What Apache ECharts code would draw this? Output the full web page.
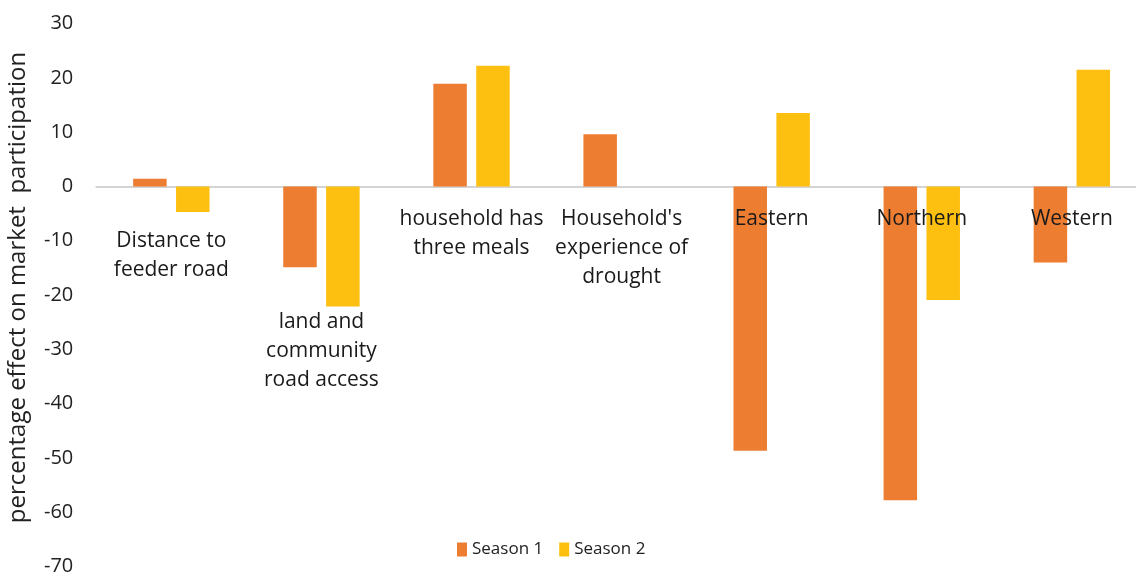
<!DOCTYPE html>
<html>
<head>
<meta charset="utf-8">
<script src="https://cdn.jsdelivr.net/npm/echarts@6/dist/echarts.min.js"></script>
<style>
html,body{margin:0;padding:0;background:#fff;}
#chart{width:1136px;height:576px;}
</style>
</head>
<body>
<div id="chart"></div>
<script>
const categories = [
  "Distance to\nfeeder road",
  "land and\ncommunity\nroad access",
  "household has\nthree meals",
  "Household's\nexperience of\ndrought",
  "Eastern",
  "Northern",
  "Western"
];
const labelOffsets = [22, 103, 0, 0, 0, 0, 0];
const season1 = [1.4, -14.9, 18.9, 9.6, -48.7, -57.8, -14.0];
const season2 = [-4.7, -22.1, 22.2, 0, 13.5, -20.9, 21.5];
const seriesNames = ["Season 1", "Season 2"];
const yTicks = {min: -70, max: 30, interval: 10};

const FONT = "Open Sans";
const chart = echarts.init(document.getElementById('chart'), null, {renderer: 'canvas'});
chart.setOption({
  animation: false,
  color: ['#ED7D31', '#FDC010'],
  textStyle: {fontFamily: FONT},
  grid: {left: 96.3, top: 23.5, width: 1050.6, height: 543, containLabel: false, outerBoundsMode: 'none'},
  legend: {
    data: seriesNames,
    left: 452, top: 536,
    itemWidth: 10, itemHeight: 14, itemGap: 16,
    icon: 'rect',
    textStyle: {fontFamily: FONT, fontSize: 17, color: '#222'}
  },
  xAxis: {
    type: 'category',
    data: categories,
    axisLine: {onZero: true, lineStyle: {color: '#d4d4d4', width: 2}},
    axisTick: {show: false},
    axisLabel: {show: false}
  },
  yAxis: {
    type: 'value',
    min: yTicks.min, max: yTicks.max, interval: yTicks.interval,
    name: 'percentage effect on market  participation',
    nameLocation: 'middle', nameGap: 66,
    nameTextStyle: {fontFamily: FONT, fontSize: 24, color: '#222', padding: [0, 0, 0, 15]},
    splitLine: {show: false},
    axisLine: {show: false},
    axisTick: {show: false},
    axisLabel: {margin: 23, fontFamily: FONT, fontSize: 20, color: '#222'}
  },
  series: [
    {name: seriesNames[0], type: 'bar', data: season1, barWidth: 33.5, barGap: '28%'},
    {name: seriesNames[1], type: 'bar', data: season2, barWidth: 33.5, barGap: '28%'},
    {
      name: 'labels', type: 'scatter', symbolSize: 0, z: 10, silent: true,
      itemStyle: {opacity: 1},
      emphasis: {disabled: true},
      data: categories.map((c, i) => ({
        value: 0,
        label: {padding: [labelOffsets[i], 0, 0, 0]}
      })),
      label: {
        show: true, position: 'bottom', distance: 18,
        formatter: p => categories[p.dataIndex],
        fontFamily: FONT, fontSize: 21, lineHeight: 29, color: '#1a1a1a', align: 'center',
        textBorderWidth: 0, opacity: 1
      }
    }
  ]
});
</script>
</body>
</html>
